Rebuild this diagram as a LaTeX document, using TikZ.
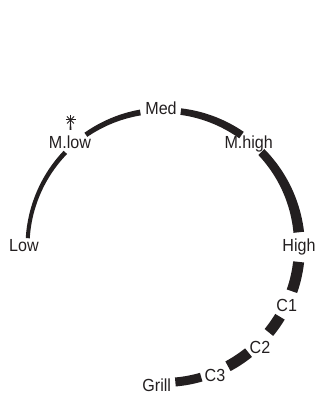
\documentclass[tikz,border=0pt]{standalone}
\usepackage{fontspec}
\setmainfont{Liberation Sans}[FakeStretch=0.92]
\usetikzlibrary{calc}
\definecolor{ink}{HTML}{231F20}
\begin{document}
\begin{tikzpicture}[x=1pt,y=1pt,
  lab/.style={anchor=base,inner sep=0pt,text=ink,font=\fontsize{17.5}{20}\selectfont},
  declare function={tw(\a)=min(11,4+7*pow(max(0,(177-\a)/177),1.6));}]
\useasboundingbox (0,0) rectangle (320,394);
\newcommand\dialseg[2]{\fill[ink] plot[domain=#1:#2,samples=30] ({163.5+(136+tw(\x)/2)*cos(\x)},{147.5+(136+tw(\x)/2)*sin(\x)}) -- plot[domain=#2:#1,samples=30] ({163.5+(136-tw(\x)/2)*cos(\x)},{147.5+(136-tw(\x)/2)*sin(\x)}) -- cycle;}
\dialseg{176.5}{136.2}
\dialseg{124.8}{99.8}
\dialseg{82.7}{55}
\dialseg{44}{6}
\dialseg{-6.5}{-19.2}
\dialseg{-31.1}{-39.2}
\dialseg{-51.3}{-61.7}
\fill[ink] (-73.9:{136+4.5}) ++(163.5,147.5) arc[start angle=-73.9,end angle=-85,radius=140.5] -- ++(-85:-9) arc[start angle=-85,end angle=-73.9,radius=131.5] -- cycle;
\node[lab] (low) at (24,142.5) {Low};
\node[lab] (mlow) at (70,245.7) {M.low};
\node[lab] (med) at (161,279) {Med};
\node[lab] (mhigh) at (248.7,245.7) {M.high};
\node[lab] (high) at (299,142.5) {High};
\node[lab] (c1) at (286.7,82.3) {C1};
\node[lab] (c2) at (260,40.7) {C2};
\node[lab] (c3) at (215,12.3) {C3};
\node[lab] (grill) at (156.7,2.3) {Grill};
% marker above M.low
\coordinate (star) at (70.5,274);
\draw[ink,line width=1pt] ($(star)+(-5,0)$) -- ($(star)+(5,0)$);
\draw[ink,line width=0.8pt] ($(star)+(-3.5,3.5)$) -- ($(star)+(3.5,-3.5)$);
\draw[ink,line width=0.8pt] ($(star)+(-3.5,-3.5)$) -- ($(star)+(3.5,3.5)$);
\draw[ink,line width=0.8pt] ($(star)+(0,4.5)$) -- ($(star)+(0,-4)$);
\fill[ink] ($(star)+(-0.4,-2)$) -- ($(star)+(0.4,-2)$) -- ($(star)+(1,-10)$) -- ($(star)+(-1,-10)$) -- cycle;
\end{tikzpicture}
\end{document}
